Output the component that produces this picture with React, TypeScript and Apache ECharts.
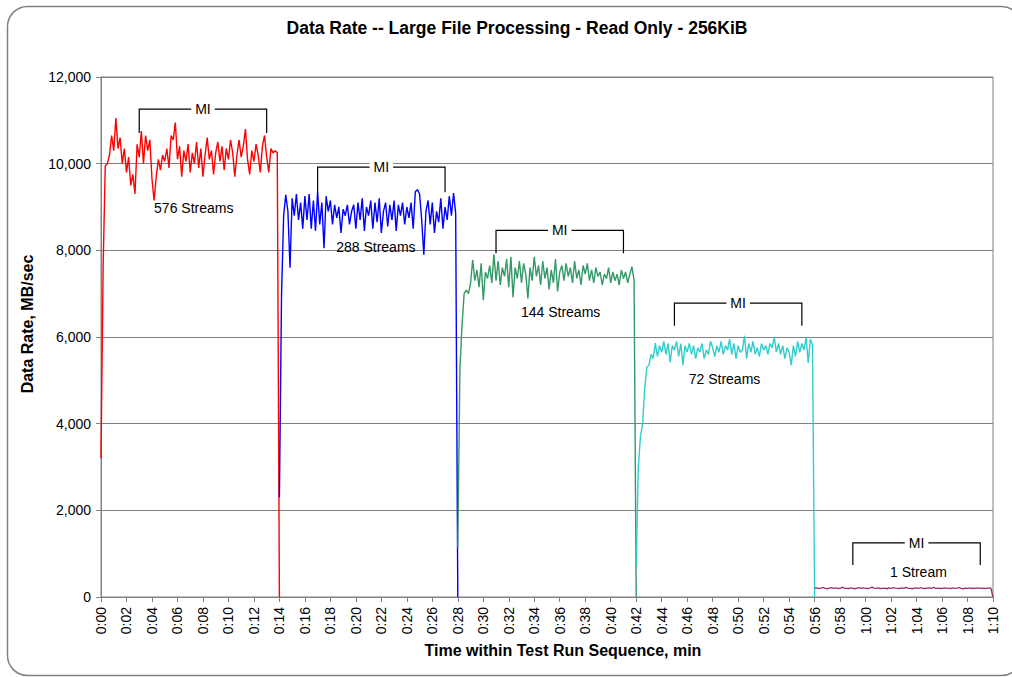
import { useEffect, useRef } from 'react';
import * as echarts from 'echarts';

const FONT = '"Liberation Sans", Arial, sans-serif';

const chartTitle = 'Data Rate -- Large File Processing - Read Only - 256KiB';
const xAxisTitle = 'Time within Test Run Sequence, min';
const yAxisTitle = 'Data Rate, MB/sec';

const segmentStarts = [0, 14, 28, 42, 56];
const segmentLength = 14;
const seriesNames = ['576 Streams', '288 Streams', '144 Streams', '72 Streams', '1 Stream'];
const seriesColors = ['#FF0000', '#0000FF', '#339966', '#33CCCC', '#993366'];

const rate576 = [
  3200, 7600, 9950, 10000, 10200, 10650, 10300, 11050, 10350, 10600,
  10000, 10350, 9800, 10150, 9500, 9750, 9300, 10450, 10150, 10750,
  10000, 10650, 10300, 10550, 9650, 9150, 9700, 10100, 9850, 10200,
  10050, 10350, 9900, 10650, 10550, 10950, 10100, 10400, 9700, 10300,
  10050, 10450, 9800, 10250, 10000, 10500, 9900, 10350, 9700, 10200,
  10600, 10100, 10300, 9750, 10250, 10500, 10050, 10400, 9850, 10350,
  10100, 10550, 10250, 9700, 10200, 10550, 10150, 10400, 10800, 10100,
  9750, 10300, 10050, 10450, 10200, 9800, 10400, 10650, 10150, 9800,
  10350, 10250, 10300, 10250, 0,
];
const rate288 = [
  2300, 6970, 8800, 9280, 8900, 7600, 9200, 8800, 9300, 8700,
  9100, 8500, 9250, 8700, 9300, 8500, 9150, 8450, 9350, 8600,
  9100, 8050, 9250, 8900, 9150, 8600, 9050, 8750, 9000, 8400,
  8950, 8800, 9050, 8600, 8900, 9050, 8500, 9100, 8700, 9200,
  8450, 9000, 8800, 9150, 8500, 9100, 8650, 9200, 8400, 8900,
  9100, 8550, 9050, 8700, 9150, 8450, 9050, 8800, 9100, 8600,
  9000, 8750, 9100, 8500, 9350, 9400, 9300, 8700, 7900, 8900,
  9150, 8600, 9100, 8400, 8900, 8650, 9200, 8500, 9000, 8700,
  9250, 8800, 9320, 8860, 0,
];
const rate144 = [
  1150, 5280, 6280, 7010, 7080, 7000, 7240, 7780, 7300, 7550,
  7150, 7700, 6850, 7500, 7350, 7650, 7250, 7910, 7300, 7750,
  7200, 7600, 7400, 7800, 7150, 7850, 6920, 7600, 7350, 7750,
  7250, 7700, 7450, 6890, 7600, 7300, 7850, 7400, 7650, 7200,
  7750, 7350, 7600, 7100, 7550, 7250, 7800, 7050, 7500, 7650,
  7300, 7700, 7400, 7600, 7250, 7750, 7350, 7550, 7200, 7650,
  7450, 7700, 7300, 7550, 7250, 7600, 7400, 7500, 7200, 7450,
  7350, 7600, 7250, 7500, 7300, 7450, 7200, 7550, 7350, 7500,
  7250, 7450, 7620, 7310, 0,
];
const rate72 = [
  700, 3000, 3700, 4000, 4800, 5300, 5350, 5600, 5500, 5860,
  5550, 5800, 5650, 5900, 5600, 5850, 5420, 5800, 5700, 5900,
  5550, 5850, 5350, 5800, 5650, 5850, 5600, 5800, 5500, 5750,
  5650, 5850, 5500, 5700, 5600, 5900, 5750, 5550, 5800, 5650,
  5900, 5600, 5800, 5700, 5950, 5600, 5850, 5500, 5800, 5650,
  5700, 6030, 5500, 5850, 5650, 5900, 5600, 5750, 5550, 5850,
  5700, 5800, 5600, 5850, 5750, 6000, 5650, 5850, 5600, 5800,
  5500, 5750, 5650, 5350, 5800, 5550, 5900, 5650, 5850, 5700,
  5990, 5400, 5950, 5820, 0,
];
const rate1 = [
  200, 210, 195, 205, 220, 200, 190, 205, 215, 200,
  210, 195, 200, 225, 205, 200, 195, 210, 200, 190,
  205, 215, 200, 210, 200, 195, 205, 230, 205, 200,
  210, 195, 200, 205, 190, 210, 200, 215, 205, 200,
  195, 210, 200, 220, 205, 200, 190, 205, 210, 200,
  215, 200, 195, 205, 210, 200, 225, 200, 205, 195,
  200, 210, 205, 200, 195, 210, 200, 205, 215, 200,
  190, 205, 200, 210, 195, 205, 200, 210, 200, 205,
  195, 200, 210, 205, 0,
];
const seriesValues = [rate576, rate288, rate144, rate72, rate1];

// "MI" measurement-interval brackets
const miStart = [3, 17, 31, 45, 59];
const miEnd = [13, 27, 41, 55, 69];
const miTop = [11260, 9920, 8460, 6780, 1250];
const miFoot = [10710, 9340, 7930, 6260, 740];

// stream-count labels
const labelTimes = [7.28, 21.57, 36.07, 48.93, 64.15];
const labelValues = [8980, 8085, 6585, 5023, 585];

const fmtTime = (v: number) => {
  const m = Math.floor(v / 60);
  const s = Math.round(v % 60);
  return `${m}:${String(s).padStart(2, '0')}`;
};

export default function App() {
  const ref = useRef<HTMLDivElement>(null);

  useEffect(() => {
    if (!ref.current) return;
    const chart = echarts.init(ref.current, undefined, { renderer: 'svg' });

    const lineSeries = seriesValues.map((vals, k) => ({
      type: 'line',
      name: seriesNames[k],
      showSymbol: false,
      symbol: 'none',
      silent: true,
      data: vals.map((v, i) => [segmentStarts[k] + (i * segmentLength) / (vals.length - 1), v]),
      lineStyle: { color: seriesColors[k], width: 1.4 },
      itemStyle: { color: seriesColors[k] },
      z: 3,
    }));

    const bracketSeries = {
      type: 'custom',
      silent: true,
      clip: false,
      z: 5,
      data: miStart.map((s, i) => [s, miTop[i], miEnd[i], miFoot[i]]),
      renderItem: (_params: any, api: any) => {
        const x1 = api.value(0);
        const top = api.value(1);
        const x2 = api.value(2);
        const foot = api.value(3);
        const pL = api.coord([x1, top]);
        const pR = api.coord([x2, top]);
        const fL = api.coord([x1, foot]);
        const fR = api.coord([x2, foot]);
        const cx = (pL[0] + pR[0]) / 2;
        return {
          type: 'group',
          children: [
            {
              type: 'polyline',
              shape: { points: [fL, pL, pR, fR] },
              style: { stroke: '#000', lineWidth: 1.2, fill: 'none' },
            },
            {
              type: 'text',
              x: cx,
              y: pL[1],
              style: {
                text: 'MI',
                fill: '#000',
                font: `14px ${FONT}`,
                align: 'center',
                verticalAlign: 'middle',
                backgroundColor: '#fff',
                padding: [1, 4],
              },
            },
          ],
        };
      },
    };

    const labelSeries = {
      type: 'custom',
      silent: true,
      clip: false,
      z: 6,
      data: labelTimes.map((t, i) => [t, labelValues[i]]),
      renderItem: (params: any, api: any) => {
        const p = api.coord([api.value(0), api.value(1)]);
        return {
          type: 'text',
          x: p[0],
          y: p[1],
          style: {
            text: seriesNames[params.dataIndex],
            fill: '#000',
            font: `14px ${FONT}`,
            align: 'center',
            verticalAlign: 'middle',
          },
        };
      },
    };

    chart.setOption({
      animation: false,
      backgroundColor: '#fff',
      grid: {
        left: 101,
        top: 77,
        right: 19,
        bottom: 80,
        show: true,
        borderColor: '#808080',
        borderWidth: 1,
        backgroundColor: '#fff',
      },
      xAxis: {
        type: 'value',
        min: 0,
        max: 70,
        interval: 2,
        axisLine: { show: true, lineStyle: { color: '#808080', width: 1 } },
        axisTick: { show: true, length: 5, lineStyle: { color: '#808080' } },
        axisLabel: {
          rotate: 90,
          margin: 10,
          fontSize: 14,
          fontFamily: FONT,
          color: '#000',
          formatter: (v: number) => fmtTime(v),
        },
        splitLine: { show: false },
      },
      yAxis: {
        type: 'value',
        min: 0,
        max: 12000,
        interval: 2000,
        axisLine: { show: true, lineStyle: { color: '#808080', width: 1 } },
        axisTick: { show: true, length: 5, lineStyle: { color: '#808080' } },
        axisLabel: {
          margin: 10,
          fontSize: 14,
          fontFamily: FONT,
          color: '#000',
          formatter: (v: number) => v.toLocaleString('en-US'),
        },
        splitLine: { show: true, lineStyle: { color: '#808080', width: 1 } },
      },
      graphic: [
        {
          type: 'rect',
          z: -10,
          shape: { x: 7.5, y: 6.5, width: 1014, height: 669, r: 20 },
          style: { fill: 'none', stroke: '#808080', lineWidth: 1.5 },
        },
        {
          type: 'text',
          x: 517,
          y: 28,
          style: {
            text: chartTitle,
            font: `bold 17.5px ${FONT}`,
            fill: '#000',
            align: 'center',
            textAlign: 'center',
            verticalAlign: 'middle',
            textVerticalAlign: 'middle',
          },
        },
        {
          type: 'text',
          x: 563,
          y: 650,
          style: {
            text: xAxisTitle,
            font: `bold 16px ${FONT}`,
            fill: '#000',
            align: 'center',
            textAlign: 'center',
            verticalAlign: 'middle',
            textVerticalAlign: 'middle',
          },
        },
        {
          type: 'text',
          x: 27,
          y: 324,
          rotation: Math.PI / 2,
          style: {
            text: yAxisTitle,
            font: `bold 16px ${FONT}`,
            fill: '#000',
            align: 'center',
            textAlign: 'center',
            verticalAlign: 'middle',
            textVerticalAlign: 'middle',
          },
        },
      ],
      series: [...lineSeries, bracketSeries, labelSeries],
    });

    return () => chart.dispose();
  }, []);

  return (
    <div
      ref={ref}
      style={{ position: 'absolute', left: 0, top: 0, width: 1012, height: 677 }}
    />
  );
}
